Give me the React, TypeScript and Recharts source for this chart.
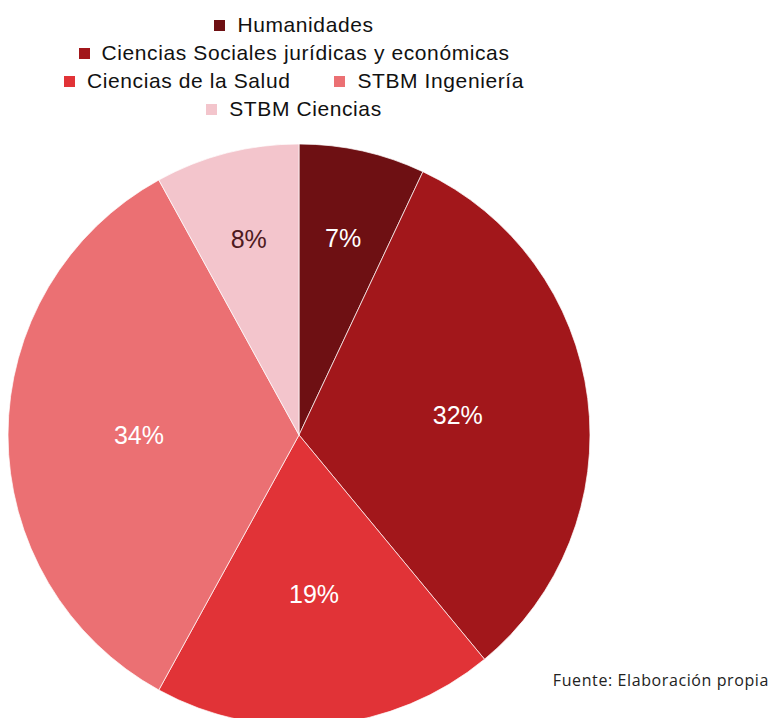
import { PieChart, Pie, Cell } from "recharts";

const categories = [
  "Humanidades",
  "Ciencias Sociales jurídicas y económicas",
  "Ciencias de la Salud",
  "STBM Ingeniería",
  "STBM Ciencias",
];
const shares = [7, 32, 19, 34, 8];
const colors = ["#6e1013", "#a2171b", "#e13337", "#eb7073", "#f3c5cc"];
// which categories share a legend line
const legendRows = [[0], [1], [2, 3], [4]];

const chartData = categories.map((name, i) => ({ name, value: shares[i] }));

const RADIAN = Math.PI / 180;

function renderLabel(props: any) {
  const { cx, cy, midAngle, outerRadius, percent, index } = props;
  // small slices get their label pushed further out, like the original
  const r = outerRadius * (percent < 0.1 ? 0.695 : 0.55);
  const x = cx + r * Math.cos(-midAngle * RADIAN);
  const y = cy + r * Math.sin(-midAngle * RADIAN);
  return (
    <text
      x={x}
      y={y}
      textAnchor="middle"
      dominantBaseline="central"
      fill={index === 4 ? "#4e1a1e" : "#ffffff"}
      fontSize={25}
      fontFamily="Liberation Sans, Arial, sans-serif"
    >
      {`${Math.round(percent * 100)}%`}
    </text>
  );
}

function ChartLegend() {
  return (
    <div
      style={{
        position: "absolute",
        top: 11,
        left: 0,
        width: 588,
        textAlign: "center",
        fontFamily: "Liberation Sans, Arial, sans-serif",
        fontSize: 21,
        letterSpacing: 0.6,
        lineHeight: "28px",
        color: "#111",
      }}
    >
      {legendRows.map((row, r) => (
        <div key={r} style={{ whiteSpace: "nowrap" }}>
          {row.map((i, k) => (
            <span key={i} style={{ marginLeft: k > 0 ? 44 : 0 }}>
              <span
                style={{
                  display: "inline-block",
                  width: 11,
                  height: 11,
                  background: colors[i],
                  marginRight: 12,
                  verticalAlign: "1px",
                }}
              />
              {categories[i]}
            </span>
          ))}
        </div>
      ))}
    </div>
  );
}

export default function App() {
  return (
    <div
      style={{
        position: "fixed",
        top: 0,
        left: 0,
        width: 773,
        height: 718,
        overflow: "hidden",
        background: "#fff",
      }}
    >
      <PieChart width={773} height={718} margin={{ top: 0, right: 0, bottom: 0, left: 0 }}>
        <Pie
          data={chartData}
          dataKey="value"
          nameKey="name"
          cx={299}
          cy={435}
          outerRadius={291}
          startAngle={90}
          endAngle={-270}
          stroke="#ffffff"
          strokeWidth={0.7}
          label={renderLabel}
          labelLine={false}
          isAnimationActive={false}
        >
          {chartData.map((d, i) => (
            <Cell key={d.name} fill={colors[i]} />
          ))}
        </Pie>
      </PieChart>
      <ChartLegend />
      <div
        style={{
          position: "absolute",
          top: 670,
          right: 4,
          fontFamily: "Open Sans, sans-serif",
          fontSize: 16,
          letterSpacing: 0.6,
          lineHeight: "20px",
          color: "#222",
        }}
      >
        Fuente: Elaboración propia
      </div>
    </div>
  );
}
